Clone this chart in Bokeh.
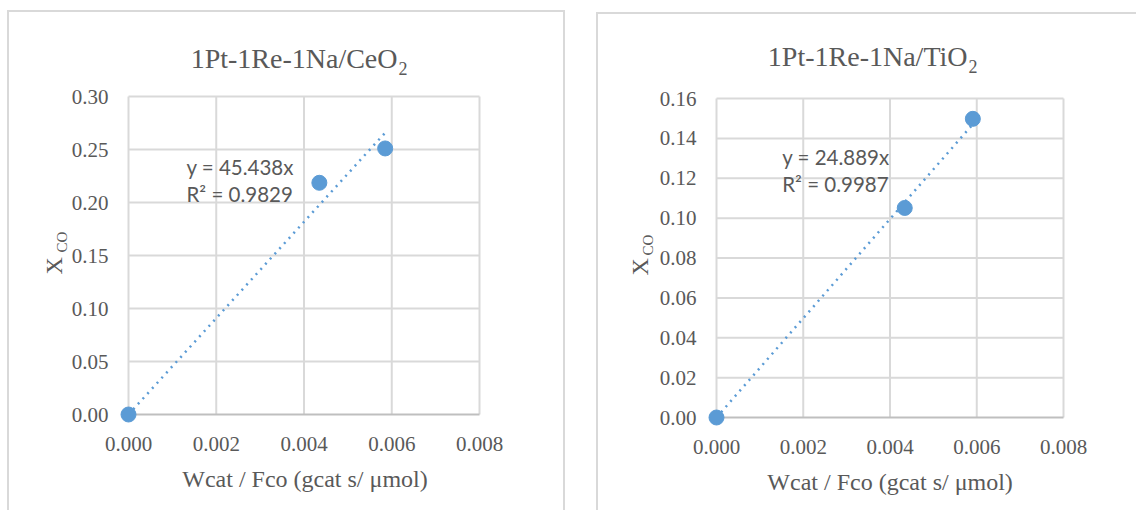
import math
from bokeh.plotting import figure
from bokeh.models import Label, FixedTicker, Range1d, LinearAxis
from bokeh.layouts import row
from bokeh.embed import file_html
from bokeh.resources import INLINE

# ---------------- data ----------------
ceo2_x = [0.0, 0.00435, 0.00585]
ceo2_y = [0.0, 0.2186, 0.2510]
ceo2_slope = 45.438
ceo2_r2 = 0.9829

tio2_x = [0.0, 0.00434, 0.00591]
tio2_y = [0.0, 0.1051, 0.1498]
tio2_slope = 24.889
tio2_r2 = 0.9987

x_ticks = [0.000, 0.002, 0.004, 0.006, 0.008]
ceo2_y_ticks = [0.00, 0.05, 0.10, 0.15, 0.20, 0.25, 0.30]
tio2_y_ticks = [0.00, 0.02, 0.04, 0.06, 0.08, 0.10, 0.12, 0.14, 0.16]

x_label = "Wcat / Fco (gcat s/ \u03bcmol)"

BLUE = "#5B9BD5"
GRID = "#d9d9d9"
AXIS = "#bfbfbf"
TXT = "#595959"
SERIF = "Liberation Serif"
SANS = "Lato"

# page offset correction (measured from first render)
OFF = 7
BASE_CORR = 0.35  # baseline correction, in em


def make_panel(xs, ys, slope, yticks, geom, margin_left, margin_top, right_border):
    # geom: canvas page left/top, canvas w/h, chart box page left/top, box w/h
    (cl, ct, W, H, fl, ft, fw, fh) = geom
    x0, x1 = x_ticks[0], x_ticks[-1]
    y0, y1 = yticks[0], yticks[-1]
    kx = fw / (x1 - x0)
    ky = fh / (y1 - y0)
    xs0 = x0 - (fl - cl) / kx
    ys0 = y0 - (ct + H - (ft + fh)) / ky
    p = figure(
        width=W, height=H,
        min_border_left=0, min_border_right=0, min_border_top=0, min_border_bottom=0,
        x_range=Range1d(xs0, xs0 + W / kx), y_range=Range1d(ys0, ys0 + H / ky),
        x_axis_type=None, y_axis_type=None,
        output_backend="svg", toolbar_location=None,
        background_fill_color="white", border_fill_color="white",
    )
    p.title.visible = False
    st = {"border-top": "2px solid #d9d9d9", "border-left": "2px solid #d9d9d9",
          "margin-top": f"{margin_top}px", "margin-left": f"{margin_left}px"}
    if right_border:
        st["border-right"] = "2px solid #d9d9d9"
    p.styles = st
    p.outline_line_color = None
    p.grid.visible = False

    # gridlines from the tick arrays
    p.segment(x0=x_ticks, y0=[y0] * len(x_ticks), x1=x_ticks, y1=[y1] * len(x_ticks),
              line_color=GRID, line_width=2)
    p.segment(x0=[x0] * len(yticks[1:]), y0=yticks[1:], x1=[x1] * len(yticks[1:]), y1=yticks[1:],
              line_color=GRID, line_width=2)
    p.segment(x0=[x0], y0=[y0], x1=[x1], y1=[y0], line_color=AXIS, line_width=2)

    # axes fixed at the data origin
    xa = LinearAxis(ticker=FixedTicker(ticks=x_ticks), fixed_location=y0, bounds=(x0, x1))
    ya = LinearAxis(ticker=FixedTicker(ticks=yticks), fixed_location=x0, bounds=(y0, y1))
    xa.major_label_overrides = {t: f"{t:.3f}" for t in x_ticks}
    ya.major_label_overrides = {t: f"{t:.2f}" for t in yticks}
    for ax in (xa, ya):
        ax.axis_line_color = None
        ax.major_tick_in = 0
        ax.major_tick_out = 0
        ax.minor_tick_in = 0
        ax.minor_tick_out = 0
        ax.major_label_text_font = SERIF
        ax.major_label_text_font_size = "21px"
        ax.major_label_text_color = TXT
    xa.major_label_standoff = 22
    ya.major_label_standoff = 20
    p.add_layout(xa, "below")
    p.add_layout(ya, "left")

    # trendline (through origin) and points
    xt = [0.0, max(xs)]
    yt = [slope * v for v in xt]
    p.line(xt, yt, line_color=BLUE, line_width=2.5, line_dash="2 5")
    p.scatter(xs, ys, size=15, fill_color=BLUE, line_color=BLUE)

    def d(px, py):
        return (x0 + (px - fl) / kx, y0 + (ft + fh - py) / ky)

    def lab(px, py, text, font, size, align="left", angle=0.0):
        if angle == 0.0:
            py = py - BASE_CORR * size
        else:
            px = px - BASE_CORR * size
        x, y = d(px, py)
        p.add_layout(Label(x=x, y=y, text=text, text_font=font,
                           text_font_size=f"{size}px", text_color=TXT,
                           text_align=align, text_baseline="alphabetic",
                           angle=angle))

    return p, lab


# ---------------- left panel ----------------
p1, lab1 = make_panel(ceo2_x, ceo2_y, ceo2_slope, ceo2_y_ticks,
                      (10, 13, 558, 500, 129, 97, 351, 318), OFF, 3 + OFF, True)
lab1(398, 68.5, "1Pt-1Re-1Na/CeO", SERIF, 28, "right")
lab1(399, 75, "2", SERIF, 18)
lab1(305.5, 488, x_label, SERIF, 24, "center")
lab1(63, 275, "X", SERIF, 24, "left", math.pi / 2)
lab1(68, 253, "CO", SERIF, 15, "left", math.pi / 2)
lab1(187, 174.3, f"y = {ceo2_slope:.3f}x", SANS, 20.5)
lab1(187, 201.5, f"R\u00b2 = {ceo2_r2:.4f}", SANS, 20.5)

# ---------------- right panel ----------------
p2, lab2 = make_panel(tio2_x, tio2_y, tio2_slope, tio2_y_ticks,
                      (598, 15, 540, 498, 716, 99, 347, 319), 5, 5 + OFF, False)
lab2(967, 66.7, "1Pt-1Re-1Na/TiO", SERIF, 28, "right")
lab2(968, 73, "2", SERIF, 18)
lab2(889.6, 491, x_label, SERIF, 24, "center")
lab2(648, 276, "X", SERIF, 24, "left", math.pi / 2)
lab2(653, 256, "CO", SERIF, 15, "left", math.pi / 2)
lab2(781.7, 165, f"y = {tio2_slope:.3f}x", SANS, 20.5)
lab2(781.7, 191.7, f"R\u00b2 = {tio2_r2:.4f}", SANS, 20.5)

layout = row(p1, p2, spacing=26)
open("out.html", "w").write(file_html(layout, INLINE))
